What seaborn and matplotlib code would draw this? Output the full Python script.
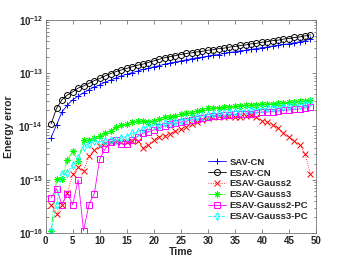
import numpy as np
import pandas as pd
import matplotlib
matplotlib.use("Agg")
import matplotlib.pyplot as plt
import seaborn as sns
from matplotlib.ticker import FixedLocator, NullFormatter, LogFormatterMathtext

# time steps
time = list(range(1, 50))

# log10 of energy errors
sav_cn_log10 = [-14.21, -13.97, -13.73, -13.60, -13.50, -13.43, -13.37, -13.31, -13.26, -13.22,
                -13.17, -13.13, -13.09, -13.05, -13.02, -12.99, -12.96, -12.93, -12.91, -12.88,
                -12.86, -12.83, -12.81, -12.79, -12.77, -12.75, -12.73, -12.71, -12.70, -12.68,
                -12.66, -12.65, -12.63, -12.61, -12.60, -12.58, -12.57, -12.55, -12.54, -12.52,
                -12.51, -12.49, -12.48, -12.46, -12.45, -12.43, -12.41, -12.39, -12.36]
esav_cn_log10 = [-13.95, -13.66, -13.50, -13.41, -13.35, -13.28, -13.24, -13.19, -13.14, -13.10,
                 -13.05, -13.01, -12.97, -12.94, -12.91, -12.88, -12.85, -12.83, -12.80, -12.77,
                 -12.74, -12.71, -12.69, -12.67, -12.65, -12.63, -12.62, -12.60, -12.59, -12.57,
                 -12.56, -12.54, -12.53, -12.51, -12.50, -12.48, -12.47, -12.45, -12.44, -12.42,
                 -12.41, -12.39, -12.38, -12.36, -12.35, -12.33, -12.32, -12.30, -12.28]
gauss2_log10 = [-15.47, -15.65, -15.47, -15.25, -14.90, -14.77, -14.84, -14.56, -14.45, -14.36,
                -14.32, -14.30, -14.29, -14.29, -14.30, -14.27, -14.27, -14.40, -14.35, -14.25,
                -14.19, -14.18, -14.14, -14.09, -14.05, -14.01, -13.96, -13.92, -13.88, -13.85,
                -13.82, -13.81, -13.82, -13.80, -13.82, -13.82, -13.80, -13.78, -13.82, -13.89,
                -13.91, -13.97, -14.03, -14.13, -14.20, -14.27, -14.34, -14.51, -14.90]
gauss3_log10 = [-15.96, -14.99, -14.99, -14.63, -14.47, -14.65, -14.26, -14.25, -14.22, -14.18,
                -14.13, -14.08, -14.02, -13.97, -13.96, -13.91, -13.90, -13.90, -13.91, -13.89,
                -13.87, -13.83, -13.82, -13.80, -13.77, -13.75, -13.74, -13.71, -13.69, -13.66,
                -13.65, -13.65, -13.64, -13.63, -13.62, -13.61, -13.60, -13.60, -13.59, -13.58,
                -13.58, -13.57, -13.56, -13.56, -13.55, -13.54, -13.53, -13.52, -13.50]
gauss2_pc_log10 = [-15.34, -15.17, -15.47, -15.26, -15.47, -15.00, -15.96, -15.47, -15.26, -14.61,
                   -14.42, -14.30, -14.25, -14.33, -14.33, -14.25, -14.19, -14.13, -14.10, -14.07,
                   -14.02, -13.99, -13.95, -13.94, -13.92, -13.90, -13.88, -13.86, -13.85, -13.82,
                   -13.80, -13.80, -13.79, -13.78, -13.77, -13.77, -13.76, -13.76, -13.74, -13.73,
                   -13.73, -13.72, -13.71, -13.70, -13.69, -13.68, -13.67, -13.65, -13.63]
gauss3_pc_log10 = [-15.96, -15.47, -14.89, -14.87, -14.73, -14.59, -14.38, -14.33, -14.27, -14.29,
                   -14.27, -14.26, -14.25, -14.22, -14.19, -14.13, -14.10, -14.05, -14.00, -13.97,
                   -14.00, -13.94, -13.93, -13.91, -13.89, -13.87, -13.85, -13.82, -13.80, -13.78,
                   -13.77, -13.75, -13.74, -13.73, -13.72, -13.71, -13.70, -13.69, -13.68, -13.67,
                   -13.66, -13.65, -13.64, -13.63, -13.62, -13.60, -13.59, -13.57, -13.54]

labels = ["SAV-CN", "ESAV-CN", "ESAV-Gauss2", "ESAV-Gauss3", "ESAV-Gauss2-PC", "ESAV-Gauss3-PC"]
series_log10 = [sav_cn_log10, esav_cn_log10, gauss2_log10, gauss3_log10, gauss2_pc_log10, gauss3_pc_log10]

x_ticks = [0, 5, 10, 15, 20, 25, 30, 35, 40, 45, 50]
y_ticks = [1e-16, 1e-15, 1e-14, 1e-13, 1e-12]

colors = ["#0000ff", "#000000", "#ff0000", "#00ff00", "#ff00ff", "#00ffff"]
markers = ["+", "o", "x", (8, 2, 0), "s", "d"]
linestyles = ["-", "-", ":", "-.", "-", "--"]
msizes = [5.0, 4.3, 4.0, 4.5, 3.8, 4.0]

sns.set_style("ticks")
plt.rcParams["font.family"] = ["Liberation Sans", "DejaVu Sans"]
plt.rcParams["font.weight"] = "bold"
plt.rcParams["mathtext.fontset"] = "custom"
plt.rcParams["mathtext.rm"] = "Liberation Sans"
plt.rcParams["mathtext.bf"] = "Liberation Sans:bold"
plt.rcParams["mathtext.default"] = "bf"

fig = plt.figure(figsize=(3.49, 2.62), dpi=100)
ax = fig.add_axes([0.131, 0.111, 0.774, 0.813])

for lab, vals, c, m, ls, ms in zip(labels, series_log10, colors, markers, linestyles, msizes):
    df = pd.DataFrame({"Time": time, "err": 10.0 ** np.array(vals)})
    sns.lineplot(data=df, x="Time", y="err", ax=ax, color=c, marker=m, linestyle=ls,
                 lw=0.6, ms=ms, mfc="none", mec=c, mew=0.7, label=lab)

ax.set_yscale("log")
ax.set_xlim(0, 50)
ax.set_ylim(1e-16, 1e-12)
ax.xaxis.set_major_locator(FixedLocator(x_ticks))
ax.yaxis.set_major_locator(FixedLocator(y_ticks))
ax.yaxis.set_major_formatter(LogFormatterMathtext())
minor = [m * d for d in [1e-16, 1e-15, 1e-14, 1e-13] for m in range(2, 10)]
ax.yaxis.set_minor_locator(FixedLocator(minor))
ax.yaxis.set_minor_formatter(NullFormatter())

ax.tick_params(which="both", direction="in", top=True, right=True, labelsize=7,
               width=0.5, color="#555555", pad=2)
ax.tick_params(which="major", length=3)
ax.tick_params(which="minor", length=1.8)
for sp in ax.spines.values():
    sp.set_linewidth(0.6)
    sp.set_color("#777777")

ax.set_xlabel("Time", fontsize=7.5, fontweight="bold", labelpad=1)
ax.set_ylabel("Energy error", fontsize=7.5, fontweight="bold", labelpad=3)

leg = ax.legend(loc="lower right", fontsize=6.8, frameon=False, handlelength=1.9,
                handletextpad=0.4, labelspacing=0.2, borderaxespad=0.4,
                bbox_to_anchor=(1.0, 0.02))
for t in leg.get_texts():
    t.set_fontweight("bold")

fig.savefig("out.png", dpi=100)
